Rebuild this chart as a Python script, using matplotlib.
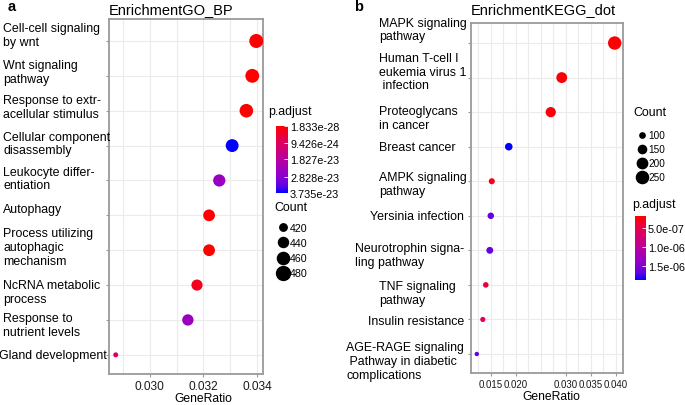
import numpy as np
import matplotlib
matplotlib.use("Agg")
import matplotlib.pyplot as plt
import matplotlib.transforms as mtransforms
from matplotlib.colors import LinearSegmentedColormap, Normalize
from matplotlib.lines import Line2D
from matplotlib.ticker import MultipleLocator, FixedLocator

plt.rcParams['font.family'] = ['Liberation Sans', 'DejaVu Sans']

# ---- panel a : GO biological process ----
go_terms = ["Cell-cell signaling\nby wnt", "Wnt signaling\npathway", "Response to extr-\nacellular stimulus",
            "Cellular component\ndisassembly", "Leukocyte differ-\nentiation", "Autophagy",
            "Process utilizing\nautophagic\nmechanism", "NcRNA metabolic\nprocess",
            "Response to\nnutrient levels", "Gland development"]
go_ratio = [0.03397, 0.03382, 0.03360, 0.03307, 0.03259, 0.03221, 0.03221, 0.03176, 0.03142, 0.02873]
go_count = [481, 479, 476, 468, 461, 456, 456, 450, 452, 407]
go_padj = [1.833e-28, 5e-27, 2e-26, 3.735e-23, 2.5e-23, 1e-25, 1e-25, 3e-24, 2.5e-23, 9e-24]
go_xticks = [0.030, 0.032, 0.034]
go_xticklabels = ["0.030", "0.032", "0.034"]
go_cbar_ticks = [1.833e-28, 9.426e-24, 1.827e-23, 2.828e-23, 3.735e-23]
go_cbar_labels = ["1.833e-28", "9.426e-24", "1.827e-23", "2.828e-23", "3.735e-23"]
go_count_breaks = [420, 440, 460, 480]

# ---- panel b : KEGG ----
kegg_terms = ["MAPK signaling\npathway", "Human T-cell l\neukemia virus 1\n infection", "Proteoglycans\nin cancer",
              "Breast cancer", "AMPK signaling\npathway", "Yersinia infection",
              "Neurotrophin signa-\nling pathway", "TNF signaling\npathway", "Insulin resistance",
              "AGE-RAGE signaling\n Pathway in diabetic\ncomplications"]
kegg_ratio = [0.0398, 0.0292, 0.0270, 0.0186, 0.0152, 0.0150, 0.0148, 0.0140, 0.0134, 0.0122]
kegg_count = [290, 213, 197, 137, 111, 118, 124, 104, 98, 89]
kegg_padj = [1.84e-7, 2.0e-7, 2.2e-7, 1.87e-6, 3.0e-7, 1.62e-6, 1.62e-6, 4.5e-7, 6.0e-7, 1.66e-6]
kegg_xticks = [0.015, 0.020, 0.030, 0.035, 0.040]
kegg_xticklabels = ["0.015", "0.020", "0.030", "0.035", "0.040"]
kegg_cbar_ticks = [5.0e-7, 1.0e-6, 1.5e-6]
kegg_cbar_labels = ["5.0e-07", "1.0e-06", "1.5e-06"]
kegg_count_breaks = [100, 150, 200, 250]

# label layout (alignment and small vertical nudges in pixels, as the labels were placed in the figure)
go_align = ["l"] * 9 + ["r"]
go_dy = [-6, -3.5, -3.5, -2, -2, -6, -3, 7, 5, 0]
kegg_align = ["l", "l", "l", "l", "l", "r", "r", "l", "r", "r"]
kegg_dy = [-13.5, -6, 5.5, 0, 2.5, 0, 4.5, 8, 2, 7]

W, H = 685, 406
fig = plt.figure(figsize=(W / 100, H / 100), dpi=100)


def fx(px):
    return px / W


def fy(py):
    return 1 - py / H


# red -> blue roughly as ggplot interpolates it (through magenta / violet)
cmap = LinearSegmentedColormap.from_list(
    "padj", [(0, "#FF0000"), (0.25, "#DE0060"), (0.5, "#B8009E"), (0.75, "#8A00CF"),
             (0.9, "#5A00E8"), (1, "#0000FF")])


def radius_px(count, cmin, cmax, rmin, rmax):
    # area proportional to count, like scale_size
    count = np.asarray(count, float)
    return np.sqrt(rmin ** 2 + (count - cmin) / (cmax - cmin) * (rmax ** 2 - rmin ** 2))


def draw_panel(rect, terms, ratio, count, padj, xlim, ylim, xticks, xticklabels, minor_step,
               label_x, align, dy, title, title_pad, tick_fs, xlabel_pos, rrange, vrange):
    ax = fig.add_axes(rect)
    y = np.arange(1, len(terms) + 1)
    cmin, cmax = min(count), max(count)
    r = radius_px(count, cmin, cmax, *rrange)
    norm = Normalize(vmin=vrange[0], vmax=vrange[1])
    sc = ax.scatter(ratio, y, s=(2 * r * 0.72) ** 2, c=padj, cmap=cmap, norm=norm,
                    edgecolors="none", zorder=3)

    ax.set_xlim(*xlim)
    ax.set_ylim(*ylim)
    ax.xaxis.set_major_locator(FixedLocator(xticks))
    ax.set_xticklabels(xticklabels)
    ax.xaxis.set_minor_locator(MultipleLocator(minor_step))
    ax.set_yticks(y)
    ax.set_yticklabels([])
    ax.grid(True, which="both", color="#ebebeb", lw=0.8)
    ax.set_axisbelow(True)
    ax.tick_params(axis="both", which="major", length=2, color="#999999", pad=2,
                   labelsize=tick_fs, labelcolor="#1a1a1a")
    ax.tick_params(axis="x", which="minor", length=0)
    for sp in ax.spines.values():
        sp.set_color("#9a9a9a")
        sp.set_linewidth(1.3)

    ax.set_title(title, loc="left", fontsize=10.5, pad=title_pad)
    ax.set_xlabel("GeneRatio", fontsize=8.7)
    ax.xaxis.set_label_coords(*xlabel_pos)

    trans = mtransforms.blended_transform_factory(fig.transFigure, ax.transData)
    for yi, term, al, d in zip(y, terms, align, dy):
        t = mtransforms.offset_copy(trans, fig=fig, y=-d, units="dots")
        if al == "l":
            ax.text(fx(label_x[0]), yi, term, transform=t, ha="left", va="center",
                    multialignment="left", fontsize=8.9)
        else:
            ax.text(fx(label_x[1]), yi, term, transform=t, ha="right", va="center",
                    multialignment="left", fontsize=8.9)
    return ax, sc


def add_colorbar(sc, rect, ticks, labels, title_xy):
    cax = fig.add_axes(rect)
    cb = fig.colorbar(sc, cax=cax)
    cb.set_ticks(ticks)
    cb.set_ticklabels(labels)
    cb.ax.invert_yaxis()
    cb.outline.set_visible(False)
    cb.ax.tick_params(length=3, width=0.6, color="white", direction="in", pad=1.5, labelsize=7.8)
    fig.text(fx(title_xy[0]), fy(title_xy[1]), "p.adjust", fontsize=8.9, ha="left", va="center")


def add_size_legend(breaks, count, rrange, title_xy, anchor, fs, spacing):
    fig.text(fx(title_xy[0]), fy(title_xy[1]), "Count", fontsize=8.9, ha="left", va="center")
    r = radius_px(breaks, min(count), max(count), *rrange)
    handles = [Line2D([], [], ls="", marker="o", color="black", markersize=2 * ri * 0.72) for ri in r]
    fig.legend(handles, [str(b) for b in breaks], loc="upper left",
               bbox_to_anchor=(fx(anchor[0]), fy(anchor[1])), frameon=False, fontsize=fs,
               borderpad=0, borderaxespad=0, handlelength=0.8, handletextpad=0.25,
               labelspacing=spacing)


# panel a
ax_a, sc_a = draw_panel([fx(109), fy(375), fx(263) - fx(109), fy(20) - fy(375)],
                        go_terms, go_ratio, go_count, go_padj,
                        xlim=(0.02848, 0.03422), ylim=(10.55, 0.37),
                        xticks=go_xticks, xticklabels=go_xticklabels, minor_step=0.001,
                        label_x=(3, 107), align=go_align, dy=go_dy,
                        title="EnrichmentGO_BP", title_pad=4, tick_fs=8.6,
                        xlabel_pos=(0.61, -0.05), rrange=(2.5, 7.0),
                        vrange=(go_cbar_ticks[0], go_cbar_ticks[-1]))
add_colorbar(sc_a, [fx(276), fy(194), fx(288) - fx(276), fy(127) - fy(194)],
             go_cbar_ticks, go_cbar_labels, (268, 112))
add_size_legend(go_count_breaks, go_count, (2.5, 7.0), (274, 208), (279, 224), 7.7, 0.48)

# panel b
ax_b, sc_b = draw_panel([fx(471), fy(374), fx(623) - fx(471), fy(24) - fy(374)],
                        kegg_terms, kegg_ratio, kegg_count, kegg_padj,
                        xlim=(0.01104, 0.04146), ylim=(10.55, 0.42),
                        xticks=kegg_xticks, xticklabels=kegg_xticklabels, minor_step=0.0025,
                        label_x=(379, 464), align=kegg_align, dy=kegg_dy,
                        title="EnrichmentKEGG_dot", title_pad=7, tick_fs=7.0,
                        xlabel_pos=(0.53, -0.05), rrange=(2.2, 6.7),
                        vrange=(1.8e-7, 1.87e-6))
add_colorbar(sc_b, [fx(635), fy(281), fx(646) - fx(635), fy(217) - fy(281)],
             kegg_cbar_ticks, kegg_cbar_labels, (632, 205))
add_size_legend(kegg_count_breaks, kegg_count, (2.2, 6.7), (633, 113), (638, 131), 7.2, 0.41)

fig.text(fx(8), fy(7), "a", fontsize=10.5, fontweight="bold", ha="left", va="center")
fig.text(fx(354), fy(7), "b", fontsize=10.5, fontweight="bold", ha="left", va="center")

fig.savefig("out.png", dpi=100)
